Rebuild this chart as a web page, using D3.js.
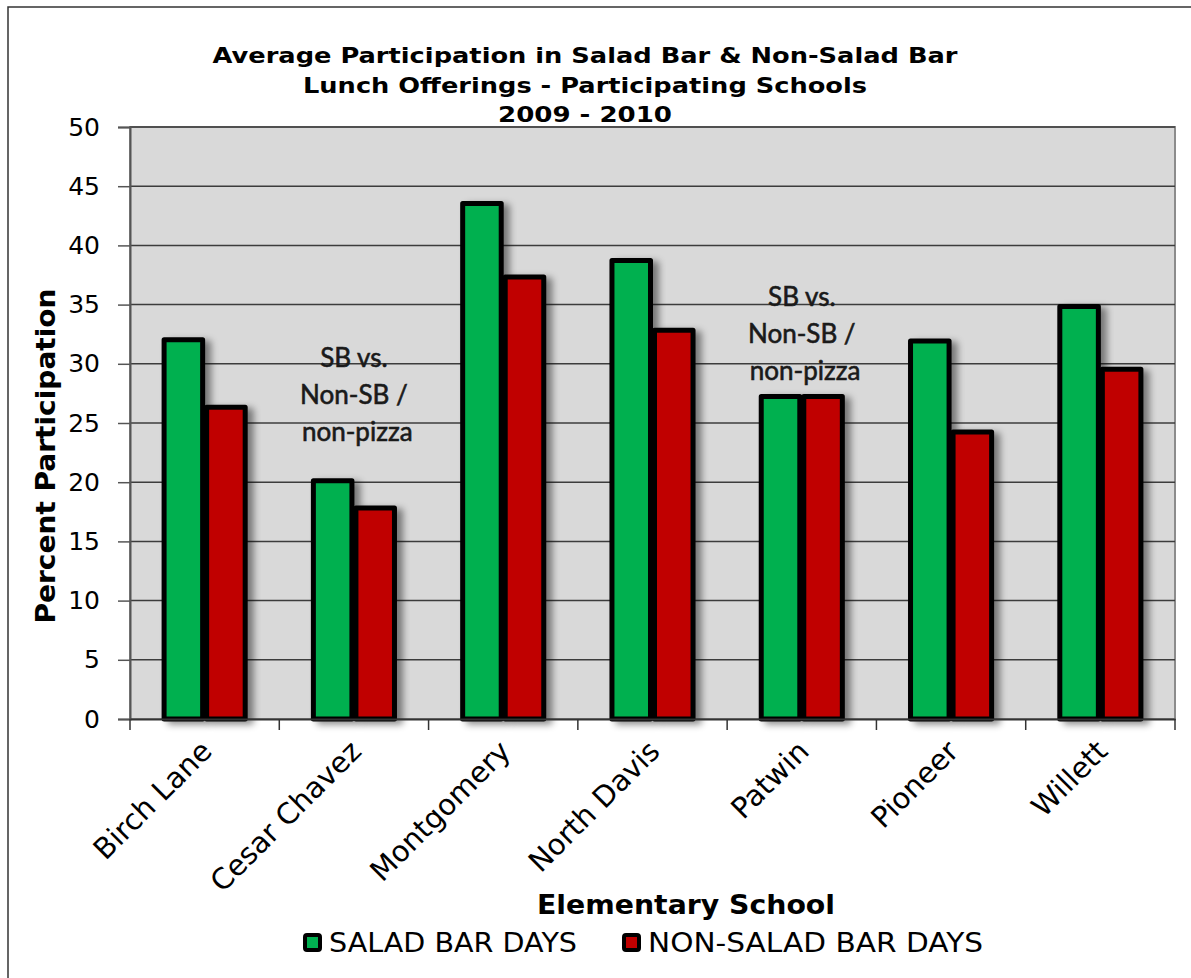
<!DOCTYPE html>
<html>
<head>
<meta charset="utf-8">
<script src="https://cdn.jsdelivr.net/npm/d3@7"></script>
<style>
  body { margin: 0; background: #fff; }
  svg { display: block; font-family: "DejaVu Sans", Verdana, sans-serif; }
</style>
</head>
<body>
<div id="container"></div>
<script>
/*** DATA ***/
const schools = ["Birch Lane", "Cesar Chavez", "Montgomery", "North Davis", "Patwin", "Pioneer", "Willett"];
const saladBar = [32.2, 20.3, 43.7, 38.9, 27.4, 32.1, 35.0];
const nonSaladBar = [26.5, 18.0, 37.5, 33.0, 27.4, 24.4, 29.7];
const seriesNames = ["SALAD BAR DAYS", "NON-SALAD BAR DAYS"];
const seriesColors = ["#00b050", "#c00000"];
const yTicks = [0, 5, 10, 15, 20, 25, 30, 35, 40, 45, 50];
const titleLines = ["Average Participation in Salad Bar & Non-Salad Bar", "Lunch Offerings - Participating Schools", "2009 - 2010"];
const noteLines = ["SB vs.", "Non-SB /", " non-pizza"];
const noteSchools = ["Cesar Chavez", "Patwin"];

/*** CONSTANTS ***/
const width = 1191, height = 978;
const margin = { top: 127, right: 16, bottom: 259, left: 130 };
const titleWidths = [745, 564, 174];
const legendX = [303, 622];
const legendWidths = [248, 335];

const svg = d3.select("#container").append("svg")
  .attr("width", width)
  .attr("height", height);

const defs = svg.append("defs");
const shadow = defs.append("filter").attr("id", "shadow")
  .attr("x", "-20%").attr("y", "-10%").attr("width", "160%").attr("height", "130%");
shadow.append("feDropShadow")
  .attr("dx", 6).attr("dy", 3).attr("stdDeviation", 3.5)
  .attr("flood-color", "#000").attr("flood-opacity", 0.45);

// outer frame (right/bottom cut off in the original)
svg.append("rect")
  .attr("x", 8).attr("y", 7)
  .attr("width", width + 10).attr("height", height + 10)
  .attr("fill", "none").attr("stroke", "#333").attr("stroke-width", 1.5);

const x = d3.scaleBand()
  .domain(schools)
  .range([margin.left, width - margin.right])
  .padding(0);

const groupW = x.bandwidth() * 0.57;
const xInner = d3.scaleBand()
  .domain([0, 1])
  .range([(x.bandwidth() - groupW) / 2, (x.bandwidth() + groupW) / 2]);

const y = d3.scaleLinear()
  .domain([0, 50])
  .range([height - margin.bottom, margin.top]);

// plot area
svg.append("rect")
  .attr("x", margin.left).attr("y", margin.top)
  .attr("width", width - margin.right - margin.left)
  .attr("height", y(0) - margin.top)
  .attr("fill", "#d9d9d9")
  .attr("stroke", "#8c8c8c").attr("stroke-width", 2);

// gridlines
svg.append("g")
  .selectAll("line")
  .data(yTicks.slice(1))
  .join("line")
  .attr("x1", margin.left).attr("x2", width - margin.right)
  .attr("y1", d => y(d)).attr("y2", d => y(d))
  .attr("stroke", "#3c3c3c").attr("stroke-width", 1.5);

// bars
const groups = svg.append("g")
  .selectAll("g")
  .data(schools)
  .join("g")
  .attr("transform", d => `translate(${x(d)},0)`);

groups.selectAll("rect")
  .data((d, i) => [saladBar[i], nonSaladBar[i]])
  .join("rect")
  .attr("x", (d, j) => xInner(j) + 2)
  .attr("y", d => y(d) + 2)
  .attr("width", xInner.bandwidth() - 4)
  .attr("height", d => y(0) - y(d) - 2)
  .attr("fill", (d, j) => seriesColors[j])
  .attr("stroke", "#000").attr("stroke-width", 5)
  .attr("stroke-linejoin", "round")
  .attr("filter", "url(#shadow)");

// axes
const yAxis = svg.append("g")
  .attr("transform", `translate(${margin.left},0)`)
  .call(d3.axisLeft(y).tickValues(yTicks).tickSize(12).tickPadding(18));
yAxis.select(".domain").attr("stroke", "#555").attr("stroke-width", 2);
yAxis.selectAll(".tick line").attr("stroke", "#555").attr("stroke-width", 1.5);
yAxis.selectAll(".tick text")
  .attr("font-family", "DejaVu Sans").attr("font-size", 25).attr("fill", "#000");

const xAxis = svg.append("g")
  .attr("transform", `translate(0,${y(0)})`)
  .call(d3.axisBottom(x).tickSize(0).tickFormat(""));
xAxis.select(".domain").attr("stroke", "#333").attr("stroke-width", 2);

svg.append("g")
  .selectAll("line")
  .data(d3.range(schools.length + 1))
  .join("line")
  .attr("x1", i => margin.left + i * x.step())
  .attr("x2", i => margin.left + i * x.step())
  .attr("y1", y(0)).attr("y2", y(0) + 11)
  .attr("stroke", "#333").attr("stroke-width", 1.5);

// x labels
svg.append("g")
  .selectAll("text")
  .data(schools)
  .join("text")
  .attr("transform", d => `translate(${x(d) + x.bandwidth() / 2 + 9},${y(0) + 34}) rotate(-45)`)
  .attr("text-anchor", "end")
  .attr("font-size", 29)
  .text(d => d);

// title
svg.append("g")
  .selectAll("text")
  .data(titleLines)
  .join("text")
  .attr("x", 585).attr("y", (d, i) => 63 + i * 29.5)
  .attr("text-anchor", "middle")
  .attr("font-size", 22).attr("font-weight", "bold")
  .attr("textLength", (d, i) => titleWidths[i])
  .attr("lengthAdjust", "spacingAndGlyphs")
  .text(d => d);

// axis titles
svg.append("text")
  .attr("transform", "translate(55,456) rotate(-90)")
  .attr("text-anchor", "middle")
  .attr("font-size", 26).attr("font-weight", "bold")
  .attr("textLength", 335).attr("lengthAdjust", "spacingAndGlyphs")
  .text("Percent Participation");

svg.append("text")
  .attr("x", 686).attr("y", 914)
  .attr("text-anchor", "middle")
  .attr("font-size", 27).attr("font-weight", "bold")
  .attr("textLength", 298).attr("lengthAdjust", "spacingAndGlyphs")
  .text("Elementary School");

// annotations
noteSchools.forEach((s, k) => {
  const cx = x(s) + x.bandwidth() / 2;
  const top = k === 0 ? 367 : 306;
  svg.append("g")
    .selectAll("text")
    .data(noteLines)
    .join("text")
    .attr("x", cx)
    .attr("y", (d, i) => top + i * 37)
    .attr("text-anchor", "middle")
    .attr("font-family", "Lato")
    .attr("font-size", 26)
    .attr("fill", "#1a1a1a")
    .attr("stroke", "#1a1a1a").attr("stroke-width", 0.6)
    .attr("xml:space", "preserve")
    .text(d => d);
});

// legend
const legend = svg.append("g")
  .selectAll("g")
  .data(seriesNames)
  .join("g")
  .attr("transform", (d, i) => `translate(${legendX[i]},933)`);

legend.append("rect")
  .attr("x", 2).attr("y", 2).attr("width", 15).attr("height", 15)
  .attr("rx", 2)
  .attr("fill", (d, i) => seriesColors[i])
  .attr("stroke", "#000").attr("stroke-width", 4);

legend.append("text")
  .attr("x", 26).attr("y", 19)
  .attr("font-size", 26)
  .attr("textLength", (d, i) => legendWidths[i])
  .attr("lengthAdjust", "spacingAndGlyphs")
  .text(d => d);
</script>
</body>
</html>
